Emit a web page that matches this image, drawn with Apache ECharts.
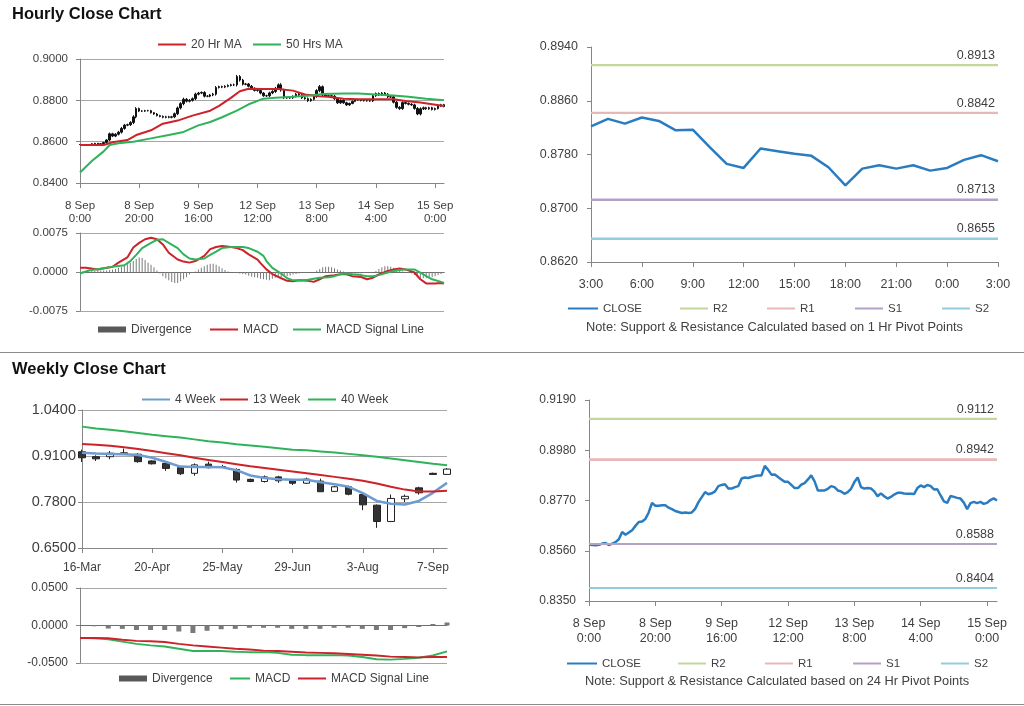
<!DOCTYPE html>
<html><head><meta charset="utf-8">
<script src="https://cdn.jsdelivr.net/npm/echarts/dist/echarts.min.js"></script>
<style>html,body{margin:0;padding:0;background:#fff}#c{width:1024px;height:706px}</style>
</head><body><div id="c"></div>
<script>
// ---------------- DATA ----------------
const HOURLY_TICK_LABELS = ['8 Sep\n0:00','8 Sep\n20:00','9 Sep\n16:00','12 Sep\n12:00','13 Sep\n8:00','14 Sep\n4:00','15 Sep\n0:00'];
const HOURLY_TICK_STEP = 20;
const HOURLY_CLOSE = [
 .8586,.8584,.8583,.8585,.8590,.8592,.8584,.8590,.8596,.8608,
 .8638,.8627,.8636,.8646,.8664,.8680,.8682,.8693,.8720,.8760,
 .8748,.8748,.8750,.8750,.8740,.8734,.8726,.8722,.8718,.8720,
 .8718,.8720,.8735,.8763,.8784,.8805,.8796,.8800,.8808,.8830,
 .8835,.8838,.8820,.8820,.8826,.8830,.8862,.8866,.8864,.8868,
 .8872,.8875,.8875,.8915,.8898,.8878,.8879,.8868,.8858,.8848,
 .8848,.8835,.8822,.8822,.8836,.8843,.8858,.8875,.8850,.8812,
 .8812,.8812,.8819,.8830,.8826,.8812,.8808,.8798,.8805,.8819,
 .8847,.8866,.8826,.8820,.8822,.8820,.8808,.8788,.8800,.8788,
 .8778,.8785,.8795,.8802,.8802,.8799,.8798,.8798,.8797,
 .8822,.8833,.8826,.8835,.8830,.8816,.8817,.8791,.8766,.8760,
 .8789,.8785,.8781,.8778,.8761,.8734,.8759,.8764,.8759,.8764,
 .8756,.8760,.8772,.8779,.8770];
// estimated high-low span of each hourly bar, in pips
const HOURLY_RANGE_PIPS = [
 4,4,3,4,5,4,4,5,6,8, 12,10,10,12,14,12,10,12,16,14, 10,8,8,8,8,8,8,8,10,10,
 10,10,12,14,14,16,12,12,12,14, 12,10,12,10,10,12,14,10,10,10, 10,10,12,16,14,12,10,10,12,10,
 12,12,10,10,12,12,14,14,16,12, 10,10,10,10,10,10,10,12,10,12, 14,16,12,10,10,10,12,12,10,10,
 10,8,8,8,8,8,8,8,8,10, 10,10,10,10,10,10,12,14,12,12, 10,10,10,12,12,14,12,10,10,10, 10,8,8,8];
const MA20_HR_KEYS = [[0,.8584],[8,.8584],[11,.8597],[16,.8608],[19,.8632],[24,.8655],[28,.8687],[33,.8702],[38,.8726],[44,.8750],[47,.8773],[51,.8812],[54,.8844],[57,.8856],[62,.8855],[67,.8855],[72,.8847],[76,.8828],[81,.8820],[84,.8817],[89,.8808],[94,.8805],[100,.8805],[106,.8805],[110,.8797],[115,.8789],[119,.8781],[123,.8773]];
const MA50_HR_KEYS = [[0,.8451],[4,.8506],[8,.8553],[10,.8584],[13,.8592],[18,.8600],[24,.8616],[30,.8632],[35,.8647],[40,.8679],[44,.8695],[48,.8718],[53,.8750],[57,.8781],[62,.8808],[66,.8812],[72,.8817],[78,.8823],[82,.8831],[89,.8833],[94,.8833],[100,.8828],[106,.8823],[111,.8817],[117,.8808],[123,.8801]];
const MACD_HR_KEYS = [[0,.0008],[2,.0008],[6,.0005],[9,.0008],[11,.001],[13,.0018],[16,.0028],[18,.0047],[20,.0056],[22,.0063],[24,.0066],[26,.0063],[28,.0053],[30,.0037],[33,.0024],[35,.002],[37,.0018],[39,.0021],[42,.0031],[44,.0044],[46,.0048],[48,.005],[51,.0048],[53,.0046],[55,.0042],[57,.0034],[60,.0024],[61,.0017],[63,.0005],[65,-.0004],[68,-.0012],[70,-.0017],[72,-.0018],[74,-.0016],[77,-.0017],[79,-.0019],[81,-.0014],[83,-.0008],[86,-.0006],[88,-.00045],[90,-.00045],[92,-.0008],[95,-.00096],[97,-.0014],[99,-.0011],[101,-.00045],[104,.0002],[106,.0005],[108,.0007],[110,.0005],[113,-.0001],[115,-.0014],[117,-.0022],[120,-.0022],[122,-.0021],[123,-.0022]];
const SIGNAL_HR_KEYS = [[0,-.0003],[3,.0003],[8,.0007],[11,.001],[15,.0013],[17,.0021],[19,.0033],[21,.0046],[24,.0056],[26,.0062],[28,.0063],[30,.0056],[33,.0046],[35,.0034],[37,.0026],[39,.0024],[42,.0026],[44,.0033],[46,.0039],[48,.0046],[51,.0048],[53,.0048],[55,.0048],[57,.0046],[60,.0039],[62,.0031],[63,.0021],[65,.0008],[68,-.0003],[70,-.0012],[72,-.0016],[75,-.0016],[77,-.0015],[79,-.0013],[81,-.0011],[84,-.001],[86,-.0008],[88,-.00045],[90,-.0003],[92,-.00045],[95,-.0006],[97,-.0008],[99,-.0008],[101,-.0006],[104,-.0001],[106,.0002],[108,.0004],[110,.0005],[113,.0005],[115,-.0001],[117,-.0008],[119,-.0014],[122,-.0019],[123,-.0021]];
const DIVERGENCE_HR = [
 0,.0001,.0001,.0001,.0002,.0002,.0003,.0003,.0003,.0003,
 .0004,.0005,.0006,.0008,.001,.0012,.0015,.0018,.0021,.0025,
 .0028,.0027,.0023,.0018,.0014,.0009,.0003,-.0003,-.0008,-.0012,
 -.0016,-.0019,-.0021,-.0021,-.0018,-.0014,-.001,-.0005,-.0002,.0001,
 .0005,.0008,.0011,.0014,.0016,.0016,.0014,.0011,.0007,.0004,
 .0001,-.0001,-.0001,-.0002,-.0003,-.0004,-.0005,-.0007,-.0009,-.001,
 -.0011,-.0013,-.0014,-.0015,-.0016,-.0013,-.0011,-.001,-.001,-.0008,
 -.0008,-.0007,-.0005,-.0004,-.0003,-.0002,-.0002,-.0001,-.0001,0,
 .0003,.0006,.0009,.001,.001,.0009,.0007,.0005,.0003,.0001,
 -.0001,-.0002,-.0003,-.0003,-.0003,-.0003,-.0002,-.0002,-.0001,0,
 .0002,.0006,.0009,.0011,.0011,.001,.0008,.0005,.0003,.0001,
 0,-.0001,-.0003,-.0006,-.0009,-.0011,-.0012,-.0012,-.0011,-.001,
 -.0008,-.0006,-.0004,-.0002];
const PIVOT_1H_HOURS = ['3:00','4:00','5:00','6:00','7:00','8:00','9:00','10:00','11:00','12:00','13:00','14:00','15:00','16:00','17:00','18:00','19:00','20:00','21:00','22:00','23:00','0:00','1:00','2:00','3:00'];
const LEVEL_NAMES = ['R2','R1','S1','S2'];
const LEVELS_1H = [0.8913, 0.8842, 0.8713, 0.8655];
const LEVELS_24H = [0.9112, 0.8942, 0.8588, 0.8404];

const WEEK_LABELS = ['16-Mar','23-Mar','30-Mar','6-Apr','13-Apr','20-Apr','27-Apr','4-May','11-May','18-May','25-May','1-Jun','8-Jun','15-Jun','22-Jun','29-Jun','6-Jul','13-Jul','20-Jul','27-Jul','3-Aug','10-Aug','17-Aug','24-Aug','31-Aug','7-Sep','14-Sep'];
const WEEKLY_OPEN  = [.922,.908,.908,.919,.915,.896,.889,.877,.861,.887,.880,.872,.844,.838,.851,.840,.833,.839,.810,.823,.801,.771,.725,.789,.820,.861,.858];
const WEEKLY_CLOSE = [.905,.902,.918,.915,.894,.888,.875,.860,.885,.877,.878,.842,.838,.851,.840,.833,.845,.809,.823,.802,.772,.725,.790,.796,.806,.858,.873];
const WEEKLY_LOW   = [.893,.896,.901,.914,.891,.886,.868,.856,.854,.875,.876,.835,.836,.835,.834,.828,.831,.809,.808,.799,.757,.707,.723,.780,.801,.857,.857];
const WEEKLY_HIGH  = [.928,.912,.924,.931,.918,.898,.892,.879,.889,.894,.885,.875,.846,.855,.854,.843,.849,.846,.826,.826,.803,.773,.801,.801,.823,.863,.876];
const MA4_WK  = [.919,.917,.916,.915,.913,.905,.893,.880,.879,.879,.878,.870,.855,.848,.844,.843,.843,.836,.830,.823,.805,.783,.775,.773,.783,.806,.834];
const MA13_WK = [.944,.942,.939,.935,.930,.924,.918,.912,.905,.899,.893,.887,.881,.876,.871,.866,.861,.856,.851,.846,.840,.832,.823,.815,.810,.810,.812];
const MA40_WK = [.993,.988,.984,.980,.975,.970,.966,.962,.957,.952,.948,.943,.940,.936,.932,.928,.926,.923,.920,.916,.912,.908,.903,.898,.893,.888,.884];
const MACD_WK   = [-.0165,-.017,-.0185,-.0215,-.0245,-.0265,-.028,-.031,-.034,-.034,-.034,-.035,-.0355,-.0355,-.0365,-.039,-.0395,-.0395,-.0395,-.040,-.042,-.045,-.0455,-.0445,-.043,-.040,-.0345];
const SIGNAL_WK = [-.0165,-.0165,-.017,-.019,-.0205,-.021,-.022,-.0245,-.0265,-.028,-.0295,-.031,-.032,-.0335,-.034,-.035,-.036,-.0365,-.037,-.038,-.039,-.040,-.0415,-.042,-.0425,-.042,-.042];
const DIVERGENCE_WK = [0,-.001,-.004,-.0045,-.006,-.006,-.006,-.008,-.010,-.007,-.005,-.0045,-.003,-.003,-.003,-.0045,-.0045,-.0045,-.003,-.003,-.0045,-.006,-.006,-.0035,-.002,.002,.004];

// ---------------- BUILD ----------------
const FONT = 'Liberation Sans';
const AXIS = '#868686', TXT = '#404040', GRIDC = '#a6a6a6';
const RED = '#cc2229', GREEN = '#2fb35a', BLUE = '#2a7cc1', LBLUE = '#6e9bd0', BARC = '#7a7a7a';
const LEVEL_COLORS = ['#c3d69b','#e6b9b8','#b3a2c7','#93cddd'];

const N = HOURLY_CLOSE.length;
const HOURLY_IDX = HOURLY_CLOSE.map((_, i) => String(i));
function fromKeys(keys) { const a = new Array(N).fill(null); keys.forEach(([i, v]) => { a[i] = v; }); return a; }
const hourlyCandles = HOURLY_CLOSE.map((c, i) => {
  const o = i > 0 ? HOURLY_CLOSE[i - 1] : c;
  const half = HOURLY_RANGE_PIPS[i] * 0.00005;
  return [o, c, Math.min(o, c) - half, Math.max(o, c) + half];
});
const weeklyCandles = WEEKLY_OPEN.map((o, i) => [o, WEEKLY_CLOSE[i], WEEKLY_LOW[i], WEEKLY_HIGH[i]]);
const close1H = HOURLY_CLOSE.slice(-PIVOT_1H_HOURS.length);
const hourlyFmt = (v, i) => (i % HOURLY_TICK_STEP === 0 ? (HOURLY_TICK_LABELS[i / HOURLY_TICK_STEP] || '') : '');

function catAxis(grid, data, o) {
  return Object.assign({
    type: 'category', gridIndex: grid, data: data, boundaryGap: false,
    axisLine: { show: true, onZero: false, lineStyle: { color: AXIS } },
    axisTick: { show: false }, axisLabel: { show: false }, splitLine: { show: false }
  }, o);
}
function valAxis(grid, min, max, interval, fs, margin, split) {
  return {
    type: 'value', gridIndex: grid, min: min, max: max, interval: interval, scale: true,
    axisLine: { show: true, lineStyle: { color: AXIS } },
    axisTick: { show: true, length: 4, lineStyle: { color: AXIS } },
    axisLabel: { color: TXT, fontSize: fs, fontFamily: FONT, margin: margin, formatter: v => v.toFixed(4) },
    splitLine: { show: split, lineStyle: { color: GRIDC } }
  };
}
function lineS(name, x, y, data, color, w, extra) {
  return Object.assign({ name: name, type: 'line', xAxisIndex: x, yAxisIndex: y, data: data, symbol: 'none', connectNulls: true,
    itemStyle: { color: color }, lineStyle: { color: color, width: w }, animation: false, z: 3 }, extra || {});
}
function levelSeries(x, y, levels, n, fs) {
  return LEVEL_NAMES.map((nm, k) => lineS(nm, x, y, new Array(n).fill(levels[k]), LEVEL_COLORS[k], 2, {
    z: 2,
    markLine: { silent: true, symbol: 'none', animation: false, precision: 4,
      lineStyle: { color: LEVEL_COLORS[k], width: 2, type: 'solid' },
      label: { show: true, position: 'insideEndTop', distance: 3, color: TXT, fontSize: fs, fontFamily: FONT, formatter: () => levels[k].toFixed(4) },
      data: [{ yAxis: levels[k] }] }
  }));
}
function leg(name, left, y, opts) {
  opts = opts || {};
  const h = opts.h || 2;
  const item = { name: name, icon: 'rect' };
  if (opts.color) item.itemStyle = { color: opts.color };
  return { data: [item], left: left, top: y - 4.5, padding: 0, itemWidth: opts.w || 28, itemHeight: h, itemGap: 0,
    selectedMode: false, textStyle: { color: TXT, fontSize: opts.fs || 12, fontFamily: FONT, padding: [0, 0, 0, 0] } };
}

const option = {
  animation: false,
  textStyle: { fontFamily: FONT },
  grid: [
    { left: 80, top: 59, width: 364, height: 124 },
    { left: 80, top: 233, width: 364, height: 78 },
    { left: 591, top: 47, width: 407, height: 215 },
    { left: 82, top: 410, width: 365, height: 138 },
    { left: 80, top: 588, width: 367, height: 75 },
    { left: 589, top: 400, width: 408, height: 201 }
  ],
  xAxis: [
    catAxis(0, HOURLY_IDX, {
      axisTick: { show: true, interval: HOURLY_TICK_STEP - 1, length: 5, lineStyle: { color: AXIS } },
      axisLabel: { show: true, interval: HOURLY_TICK_STEP - 1, formatter: hourlyFmt, color: TXT, fontSize: 11.5, lineHeight: 13, margin: 16, fontFamily: FONT }
    }),
    catAxis(1, HOURLY_IDX, { axisLine: { show: true, onZero: true, lineStyle: { color: '#6e6e6e' } } }),
    catAxis(2, PIVOT_1H_HOURS, {
      axisTick: { show: true, interval: 2, length: 5, lineStyle: { color: AXIS } },
      axisLabel: { show: true, interval: 2, color: TXT, fontSize: 12.5, margin: 16, fontFamily: FONT }
    }),
    catAxis(3, WEEK_LABELS, {
      axisTick: { show: true, interval: 4, length: 5, lineStyle: { color: AXIS } },
      axisLabel: { show: true, interval: 4, color: TXT, fontSize: 12, margin: 14, fontFamily: FONT }
    }),
    catAxis(4, WEEK_LABELS, { axisLine: { show: true, onZero: true, lineStyle: { color: '#6e6e6e' } } }),
    catAxis(5, HOURLY_IDX, {
      axisTick: { show: true, interval: HOURLY_TICK_STEP - 1, length: 5, lineStyle: { color: AXIS } },
      axisLabel: { show: true, interval: HOURLY_TICK_STEP - 1, formatter: hourlyFmt, color: TXT, fontSize: 12.5, lineHeight: 15, margin: 15, fontFamily: FONT }
    })
  ],
  yAxis: [
    valAxis(0, 0.84, 0.90, 0.02, 11.5, 12, true),
    valAxis(1, -0.0075, 0.0075, 0.0075, 11.5, 12, true),
    valAxis(2, 0.862, 0.894, 0.008, 12.5, 13, false),
    valAxis(3, 0.65, 1.04, 0.13, 14.5, 6, true),
    valAxis(4, -0.05, 0.05, 0.05, 12, 12, true),
    valAxis(5, 0.835, 0.919, 0.021, 12, 13, false)
  ],
  legend: [
    leg('20 Hr MA', 158, 43), leg('50 Hrs MA', 253, 43),
    leg('Divergence', 98, 328, { h: 6, color: '#595959' }), leg('MACD', 210, 328), leg('MACD Signal Line', 293, 328),
    leg('CLOSE', 568, 307, { w: 30, fs: 11.5 }), leg('R2', 680, 307, { w: 28, fs: 11.5 }), leg('R1', 767, 307, { w: 28, fs: 11.5 }),
    leg('S1', 855, 307, { w: 28, fs: 11.5 }), leg('S2', 942, 307, { w: 28, fs: 11.5 }),
    leg('4 Week', 142, 398), leg('13 Week', 220, 398), leg('40 Week', 308, 398),
    leg('Divergence ', 119, 677, { h: 6, color: '#595959' }), leg('MACD ', 230, 677, { w: 20 }), leg('MACD Signal Line ', 298, 677),
    leg('CLOSE', 567, 662, { w: 30, fs: 11.5 }), leg('R2', 678, 662, { w: 28, fs: 11.5 }), leg('R1', 765, 662, { w: 28, fs: 11.5 }),
    leg('S1', 853, 662, { w: 28, fs: 11.5 }), leg('S2', 941, 662, { w: 28, fs: 11.5 })
  ],
  series: [
    { name: 'Hourly bars', type: 'candlestick', xAxisIndex: 0, yAxisIndex: 0, data: hourlyCandles, barWidth: 2,
      itemStyle: { color: '#111', color0: '#111', borderColor: '#111', borderColor0: '#111', borderWidth: 1 }, z: 2 },
    lineS('20 Hr MA', 0, 0, fromKeys(MA20_HR_KEYS), RED, 2),
    lineS('50 Hrs MA', 0, 0, fromKeys(MA50_HR_KEYS), GREEN, 2),
    { name: 'Divergence', type: 'bar', xAxisIndex: 1, yAxisIndex: 1, data: DIVERGENCE_HR, barWidth: 1, itemStyle: { color: BARC }, z: 2 },
    lineS('MACD', 1, 1, fromKeys(MACD_HR_KEYS), RED, 2),
    lineS('MACD Signal Line', 1, 1, fromKeys(SIGNAL_HR_KEYS), GREEN, 2),
    ...levelSeries(2, 2, LEVELS_1H, PIVOT_1H_HOURS.length, 12.5),
    lineS('CLOSE', 2, 2, close1H, BLUE, 2.5, { z: 4 }),
    { name: 'Weekly bars', type: 'candlestick', xAxisIndex: 3, yAxisIndex: 3, data: weeklyCandles, barWidth: 7,
      itemStyle: { color: '#ffffff', color0: '#333333', borderColor: '#222', borderColor0: '#222', borderWidth: 1 }, z: 2 },
    lineS('4 Week', 3, 3, MA4_WK, LBLUE, 2.5),
    lineS('13 Week', 3, 3, MA13_WK, RED, 2),
    lineS('40 Week', 3, 3, MA40_WK, GREEN, 2),
    { name: 'Divergence ', type: 'bar', xAxisIndex: 4, yAxisIndex: 4, data: DIVERGENCE_WK, barWidth: 5, itemStyle: { color: BARC }, z: 2 },
    lineS('MACD ', 4, 4, MACD_WK, GREEN, 2),
    lineS('MACD Signal Line ', 4, 4, SIGNAL_WK, RED, 2),
    ...levelSeries(5, 5, LEVELS_24H, N, 12.5),
    lineS('CLOSE', 5, 5, HOURLY_CLOSE, BLUE, 2.5, { z: 4 })
  ],
  graphic: [
    { type: 'text', left: 12, top: 6, style: { text: 'Hourly Close Chart', fontSize: 16.5, fontWeight: 'bold', fontFamily: FONT, fill: '#111' } },
    { type: 'text', left: 12, top: 361, style: { text: 'Weekly Close Chart', fontSize: 16.5, fontWeight: 'bold', fontFamily: FONT, fill: '#111' } },
    { type: 'text', left: 586, top: 321, style: { text: 'Note: Support & Resistance Calculated based on 1 Hr Pivot Points', fontSize: 12.8, fontFamily: FONT, fill: TXT } },
    { type: 'text', left: 585, top: 675, style: { text: 'Note: Support & Resistance Calculated based on 24 Hr Pivot Points', fontSize: 12.8, fontFamily: FONT, fill: TXT } },
    { type: 'line', shape: { x1: 0, y1: 352.5, x2: 1024, y2: 352.5 }, style: { stroke: '#8c8c8c', lineWidth: 1 } },
    { type: 'line', shape: { x1: 0, y1: 704.5, x2: 1024, y2: 704.5 }, style: { stroke: '#8c8c8c', lineWidth: 1 } }
  ]
};
const chart = echarts.init(document.getElementById('c'), null, { renderer: 'canvas' });
chart.setOption(option);
</script></body></html>
